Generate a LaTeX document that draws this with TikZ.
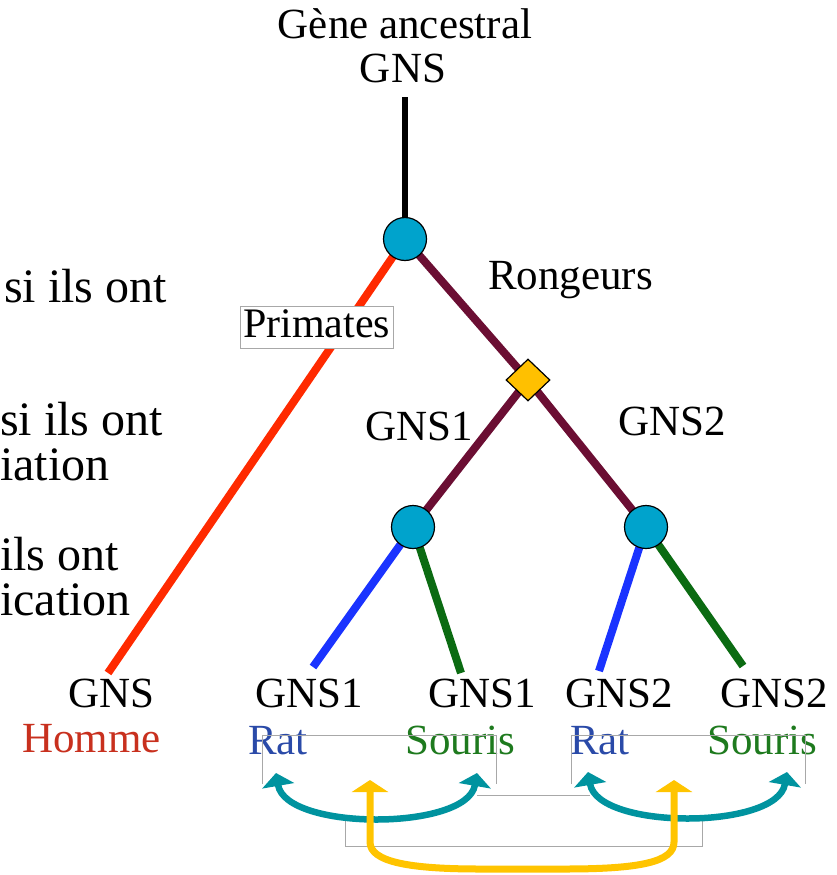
\documentclass[tikz,border=0pt]{standalone}
\usepackage{fontspec}
\setmainfont{Liberation Serif}
\usetikzlibrary{arrows.meta,shapes.geometric,backgrounds}

\definecolor{nodeblue}{HTML}{00A3CC}
\definecolor{specyellow}{HTML}{FFC000}
\definecolor{rodent}{HTML}{6B0E33}
\definecolor{primate}{HTML}{FF2A00}
\definecolor{ratline}{HTML}{1A33FF}
\definecolor{mouseline}{HTML}{0B6B12}
\definecolor{arcteal}{HTML}{00939F}
\definecolor{arcyellow}{HTML}{FFC400}
\definecolor{ratlabel}{HTML}{2A4AA8}
\definecolor{mouselabel}{HTML}{1E7A1E}
\definecolor{manlabel}{HTML}{C8301E}
\definecolor{framegray}{HTML}{A8A8A8}

\begin{document}
\begin{tikzpicture}[x=1pt,y=-1pt,
  txt/.style={font=\fontsize{43}{45}\selectfont, inner sep=0pt, anchor=base west},
  ctxt/.style={txt, anchor=base},
  side/.style={font=\fontsize{48}{50}\selectfont, inner sep=0pt, anchor=base west},
  dup/.style={circle, draw=black, line width=1.2pt, fill=nodeblue,
    minimum size=43pt, inner sep=0pt},
  spec/.style={diamond, draw=black, line width=1.2pt, fill=specyellow,
    minimum width=44pt, minimum height=42pt, inner sep=0pt},
  branch/.style={line width=8pt},
  frameline/.style={draw=framegray, line width=0.8pt},
  swaparc/.style={draw=arcteal, line width=6.5pt,
    {Triangle[width=32pt,length=13pt]}-{Triangle[width=32pt,length=13pt]}},
  crossarc/.style={draw=arcyellow, line width=7pt,
    {Triangle[width=36pt,length=12pt]}-{Triangle[width=36pt,length=12pt]}}
]
\useasboundingbox (0,0) rectangle (837,875);

% ancestral gene
\node[ctxt] (anc) at (405,38) {Gène ancestral};
\node[ctxt] (ancgns) at (403,82) {GNS};
\coordinate (stem) at (405,97);

% tree nodes
\node[dup] (root) at (405,239) {};
\node[spec] (sp) at (528,380) {};
\node[dup] (dl) at (413,527) {};
\node[dup] (dr) at (646,527) {};

% branch ends
\coordinate (hom) at (108,673);
\coordinate (ratA) at (313,667);
\coordinate (souA) at (461,673);
\coordinate (ratB) at (599,671);
\coordinate (souB) at (743,666);

\begin{scope}[on background layer]
  \draw[line width=6.5pt] (stem) -- (root.center);
  \draw[branch, primate] (root.center) -- (hom);
  \draw[branch, rodent] (root.center) -- (sp.center);
  \draw[branch, rodent] (sp.center) -- (dl.center);
  \draw[branch, rodent] (sp.center) -- (dr.center);
  \draw[branch, ratline] (dl.center) -- (ratA);
  \draw[branch, mouseline] (dl.center) -- (souA);
  \draw[branch, ratline] (dr.center) -- (ratB);
  \draw[branch, mouseline] (dr.center) -- (souB);
\end{scope}

% branch labels
\node[draw=framegray, line width=0.8pt, fill=white, inner sep=1pt,
  text height=30pt, text depth=10pt, minimum width=153pt,
  font=\fontsize{42}{45}\selectfont] (prim) at (316.5,327) {Primates};
\node[txt] (rong) at (488,289) {Rongeurs};
\node[txt] (g1) at (365,440) {GNS1};
\node[txt] (g2) at (618,435) {GNS2};

% margin notes
\node[side] (n1) at (4,302) {si ils ont};
\node[side] (n2) at (0,435) {si ils ont};
\node[side] (n3) at (0,480) {iation};
\node[side] (n4) at (0,570) {ils ont};
\node[side] (n5) at (0,615) {ication};

% leaves
\node[txt] (lg0) at (68,707) {GNS};
\node[txt, text=manlabel] (lh) at (22,752) {Homme};
\node[txt] (lg1) at (255,707) {GNS1};
\node[txt] (lg2) at (428,707) {GNS1};
\node[txt] (lg3) at (565,707) {GNS2};
\node[txt] (lg4) at (720,707) {GNS2};
\node[txt, text=ratlabel] (lr1) at (248,754) {Rat};
\node[txt, text=mouselabel] (ls1) at (405,754) {Souris};
\node[txt, text=ratlabel] (lr2) at (570,754) {Rat};
\node[txt, text=mouselabel] (ls2) at (707,754) {Souris};

% grouping frames
\draw[frameline] (262,784) -- (262,735) -- (496,735) -- (496,784);
\draw[frameline] (571,784) -- (571,735) -- (805,735) -- (805,784);
\draw[frameline] (477,795) -- (590,795);
\draw[frameline] (345,817) -- (345,846) -- (702,846) -- (702,817);

% exchange arrows
\coordinate (t1) at (276,773);
\coordinate (t2) at (477,773);
\coordinate (t3) at (588,772);
\coordinate (t4) at (787,772);
\coordinate (y1) at (370,780);
\coordinate (y2) at (674,780);
\draw[swaparc] (t1) .. controls (286,831) and (467,831) .. (t2);
\draw[swaparc] (t3) .. controls (598,830) and (777,830) .. (t4);
\draw[crossarc] (y1) -- (370,842) .. controls (370,862) and (410,869) .. (480,869)
  -- (565,869) .. controls (640,869) and (674,862) .. (674,842) -- (y2);
\end{tikzpicture}
\end{document}
